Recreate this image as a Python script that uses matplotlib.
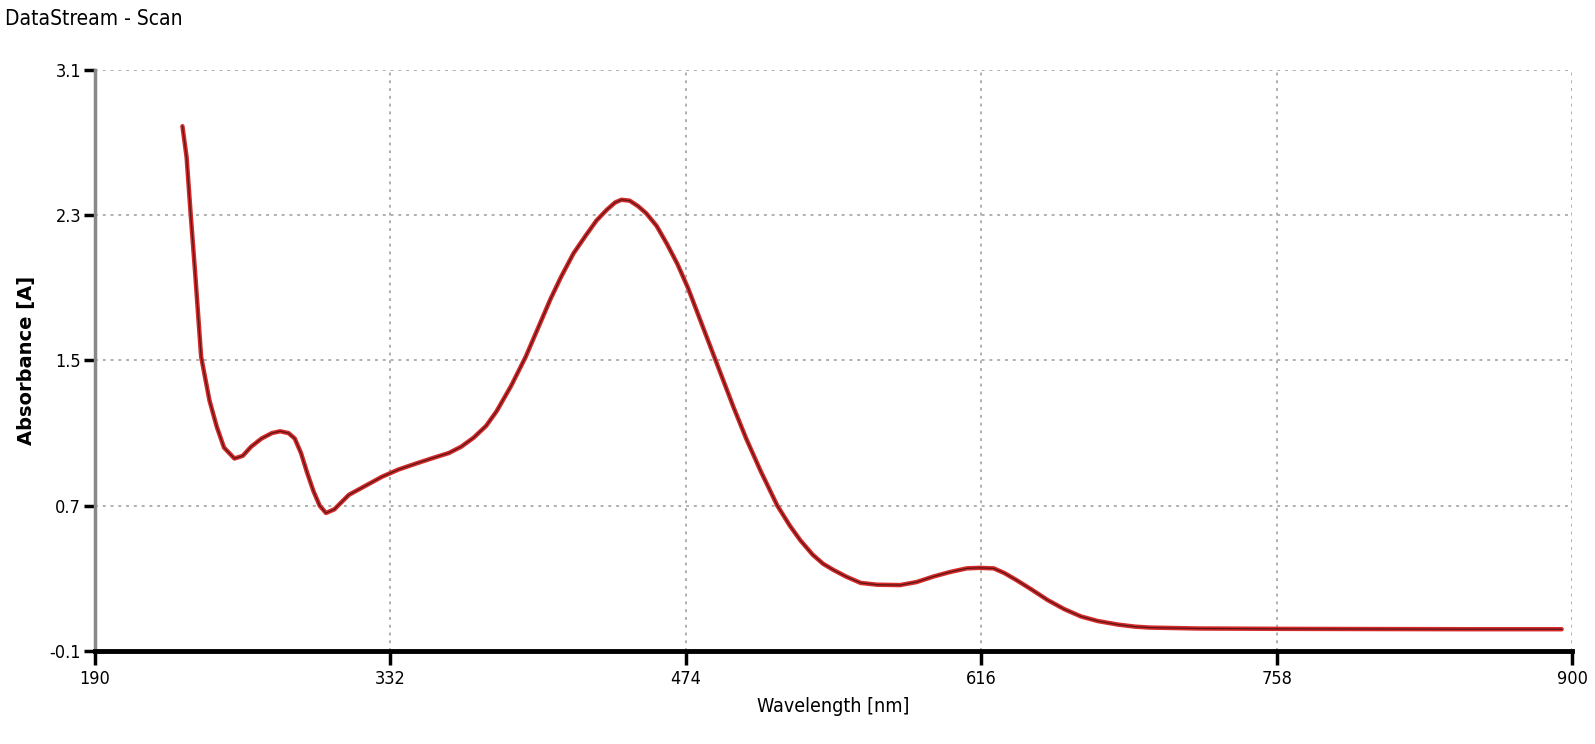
import numpy as np
import matplotlib.pyplot as plt

# spectrum (nm, absorbance)
wavelength = [232, 234, 236, 238, 241, 245, 248.5, 252, 257, 261, 265, 270, 275, 279, 283, 286,
              289, 292, 295, 298, 301, 305, 312, 320, 328, 336, 345, 353, 360, 366, 372, 378,
              383, 390, 397, 403, 409, 414, 420, 426, 431, 436, 440, 443, 447, 451, 455, 460,
              465, 470, 475, 481, 487, 492, 497, 503, 510, 518, 524, 529, 535, 540, 545, 551,
              558, 566, 577, 585, 593, 601, 609, 615, 622, 627, 633, 640, 648, 656, 664, 672,
              682, 690, 697, 720, 760, 800, 850, 895]
absorbance = [2.79, 2.62, 2.30, 2.00, 1.52, 1.28, 1.135, 1.02, 0.96, 0.975, 1.025, 1.07, 1.10, 1.11, 1.10, 1.07,
              0.99, 0.88, 0.78, 0.70, 0.66, 0.68, 0.76, 0.81, 0.86, 0.90, 0.935, 0.965, 0.99, 1.025, 1.075, 1.14,
              1.22, 1.36, 1.52, 1.68, 1.84, 1.96, 2.09, 2.19, 2.27, 2.33, 2.37, 2.385, 2.38, 2.35, 2.31, 2.24,
              2.14, 2.03, 1.90, 1.72, 1.54, 1.39, 1.24, 1.07, 0.89, 0.70, 0.59, 0.51, 0.43, 0.38, 0.346, 0.31,
              0.275, 0.265, 0.263, 0.28, 0.31, 0.335, 0.355, 0.358, 0.355, 0.33, 0.29, 0.24, 0.18, 0.13, 0.09, 0.065,
              0.045, 0.034, 0.029, 0.024, 0.022, 0.021, 0.02, 0.02]

x_ticks = [190, 332, 474, 616, 758, 900]
y_ticks = [-0.1, 0.7, 1.5, 2.3, 3.1]

fig = plt.figure(figsize=(15.95, 7.44), dpi=100)
ax = fig.add_axes([0.0596, 0.125, 0.926, 0.781])

ax.plot(wavelength, absorbance, color='#d42a2a', lw=3.2, solid_capstyle='round', zorder=3)
ax.plot(wavelength, absorbance, color='#3a1010', lw=0.9, alpha=0.8, zorder=4)

ax.set_xlim(190, 900)
ax.set_ylim(-0.1, 3.1)
ax.set_xticks(x_ticks)
ax.set_yticks(y_ticks)
ax.set_xticklabels([str(t) for t in x_ticks])
ax.set_yticklabels(['%.1f' % t for t in y_ticks])

ax.grid(True, color='#b0b0b0', linestyle=(0, (1.5, 2.5)), lw=1.4, zorder=0)
ax.spines['top'].set_visible(False)
ax.spines['right'].set_visible(False)
ax.spines['left'].set_color('#888888')
ax.spines['left'].set_linewidth(2.5)
ax.spines['bottom'].set_color('black')
ax.spines['bottom'].set_linewidth(3.5)
ax.spines['bottom'].set_zorder(5)

ax.tick_params(axis='both', colors='black', labelsize=13, width=2.5)
ax.tick_params(axis='x', length=10, pad=4)
ax.tick_params(axis='y', length=8, pad=2)
for lbl in ax.get_xticklabels() + ax.get_yticklabels():
    lbl.set_fontstretch('condensed')

ax.set_xlabel('Wavelength [nm]', fontsize=14, fontstretch='condensed', labelpad=6)
ax.set_ylabel('Absorbance [A]', fontsize=14, fontweight='bold', labelpad=10)

fig.text(0.003, 0.975, 'DataStream - Scan', fontsize=15, fontstretch='condensed', va='center', ha='left')

fig.savefig('out.png', dpi=100)
